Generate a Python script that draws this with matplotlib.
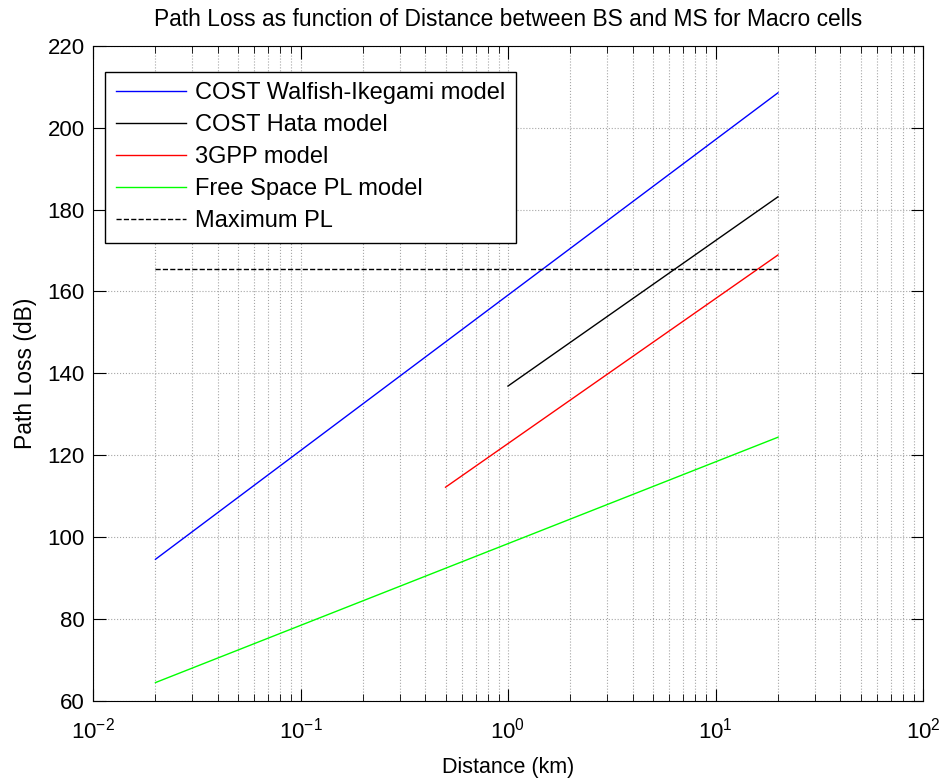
import numpy as np
import matplotlib
matplotlib.use("Agg")
import matplotlib.pyplot as plt

# distances (km) and path loss (dB) - lines are straight on log x
d_wi = [0.02, 20]
pl_wi = [94.6, 208.5]
d_hata = [1.0, 20]
pl_hata = [136.9, 183.1]
d_3gpp = [0.5, 20]
pl_3gpp = [112.2, 168.9]
d_fs = [0.02, 20]
pl_fs = [64.5, 124.4]
d_max = [0.02, 20]
pl_max = [165.6, 165.6]

labels = ["COST Walfish-Ikegami model", "COST Hata model", "3GPP model",
          "Free Space PL model", "Maximum PL"]

plt.rcParams['font.family'] = ['Liberation Sans', 'DejaVu Sans']
plt.rcParams['mathtext.default'] = 'regular'

fig = plt.figure(figsize=(9.43, 7.81), dpi=100)
ax = fig.add_axes([93/943, 1-701/781, (923-93)/943, (701-45.7)/781])

ax.semilogx(d_wi, pl_wi, color=(0, 0, 1), lw=1, label=labels[0])
ax.semilogx(d_hata, pl_hata, color='k', lw=1, label=labels[1])
ax.semilogx(d_3gpp, pl_3gpp, color=(1, 0, 0), lw=1, label=labels[2])
ax.semilogx(d_fs, pl_fs, color=(0, 1, 0), lw=1, label=labels[3])
ax.semilogx(d_max, pl_max, 'k--', lw=1, label=labels[4])

ax.set_xlim(1e-2, 1e2)
ax.set_ylim(60, 220)
ax.set_yticks(np.arange(60, 221, 20))
ax.grid(True, which='major', ls=':', color='0.65', lw=0.8)
ax.grid(True, which='minor', axis='x', ls=':', color='0.65', lw=0.8)
ax.tick_params(which='both', direction='in', top=True, right=True, labelsize=16)
ax.tick_params(which='major', length=9)
ax.tick_params(which='minor', length=5)
ax.tick_params(axis='x', pad=12)
ax.tick_params(axis='y', pad=6)

ax.set_title('Path Loss as function of Distance between BS and MS for Macro cells', fontsize=16.4, pad=14)
ax.set_xlabel('Distance (km)', fontsize=15.5, labelpad=10)
ax.set_ylabel('Path Loss (dB)', fontsize=16.5, labelpad=7.5)

leg = ax.legend(loc='upper left', bbox_to_anchor=(12/830, 1-26/655), fontsize=17,
                fancybox=False, framealpha=1, edgecolor='k', handlelength=3,
                handletextpad=0.35, borderaxespad=0, labelspacing=0.42, borderpad=0.45)
leg.get_frame().set_linewidth(1)

plt.savefig('out.png', dpi=100)
